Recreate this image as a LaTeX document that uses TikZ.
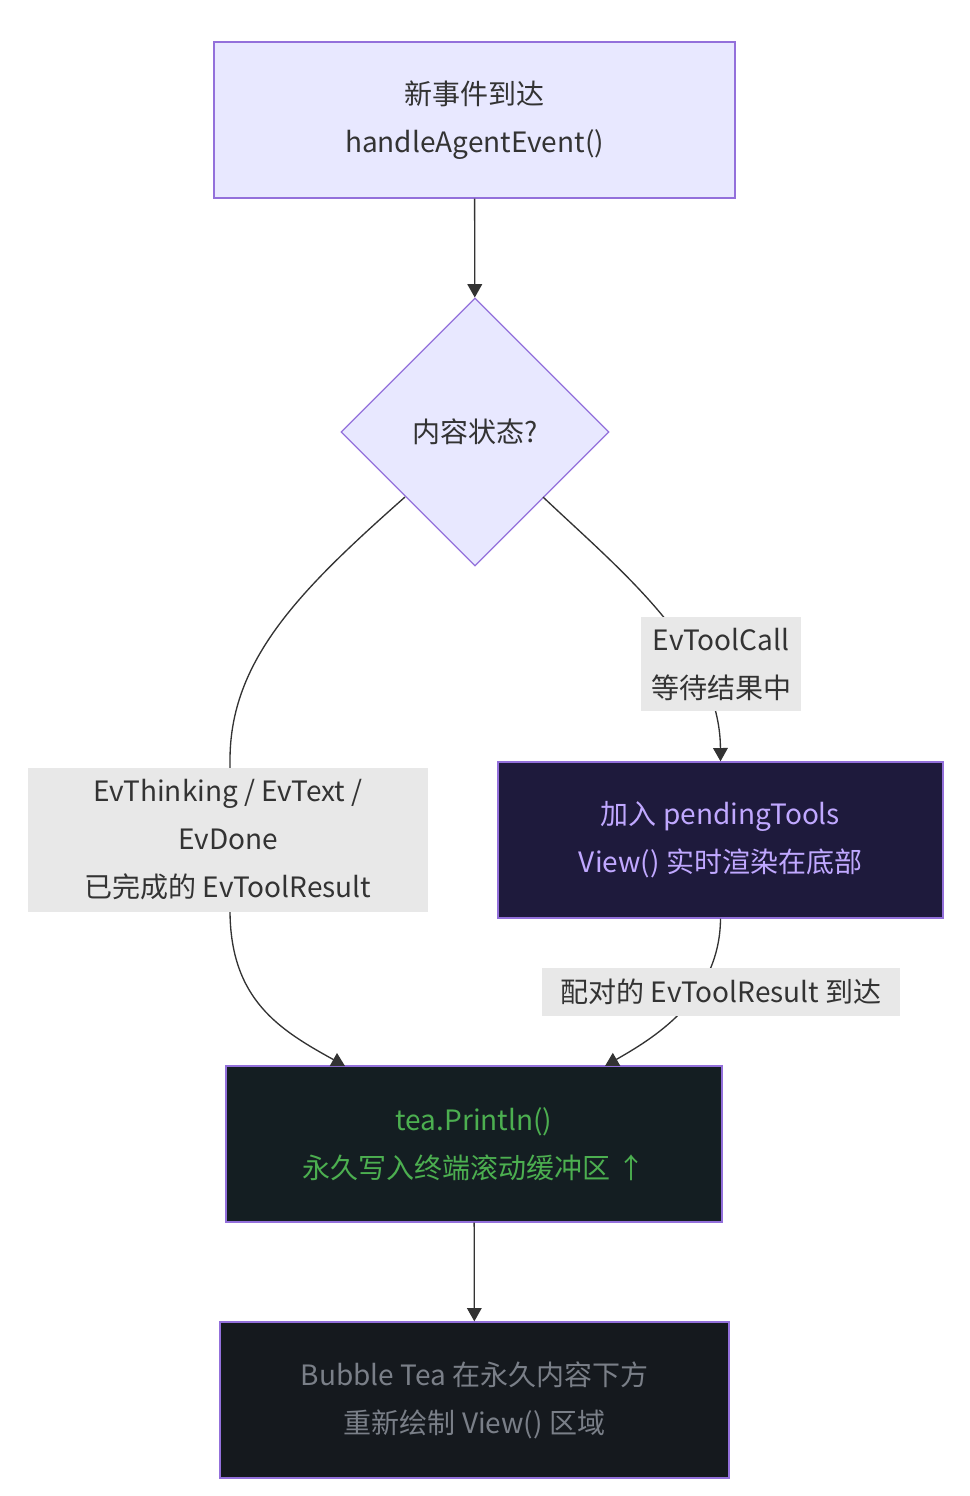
\documentclass[tikz,border=0pt]{standalone}
\usepackage{fontspec}
\setmainfont{Noto Sans CJK SC}
\usetikzlibrary{arrows.meta,shapes.geometric}
\definecolor{lav}{HTML}{E8E8FF}
\definecolor{lavb}{HTML}{9370DB}
\definecolor{edge}{HTML}{333333}
\definecolor{lbl}{HTML}{E8E8E8}
\begin{document}
\begin{tikzpicture}[x=0.75pt,y=-0.75pt,
  box/.style={draw=lavb,line width=1pt,minimum width=#1*0.75pt,minimum height=117pt,align=center,inner sep=0pt,font=\fontsize{21}{36}\selectfont},
  lab/.style={fill=lbl,align=center,inner sep=2pt,font=\fontsize{21}{36}\selectfont,text=edge},
  arr/.style={draw=edge,line width=1pt,-{Triangle[length=10pt,width=11pt]}}]
\useasboundingbox (0,0) rectangle (970,1496);
\node[box=521,fill=lav,text=edge] (a) at (474.5,120) {新事件到达\\handleAgentEvent()};
\node[draw=lavb,fill=lav,line width=1pt,diamond,minimum width=201pt,minimum height=201pt,inner sep=0pt,text=edge,font=\fontsize{21}{36}\selectfont] (d) at (475,432) {内容状态?};
\node[box=445,fill={rgb,255:red,30;green,26;blue,60},text={rgb,255:red,192;green,168;blue,255}] (p) at (720.5,840) {加入 pendingTools\\View() 实时渲染在底部};
\node[box=496,fill={rgb,255:red,20;green,30;blue,34},text={rgb,255:red,76;green,175;blue,80}] (t) at (474,1144) {tea.Println()\\永久写入终端滚动缓冲区 ↑};
\node[box=509,fill={rgb,255:red,21;green,25;blue,30},text={rgb,255:red,122;green,127;blue,136}] (b) at (474.5,1400) {Bubble Tea 在永久内容下方\\重新绘制 View() 区域};
\coordinate (dl) at (405,497);
\coordinate (dr) at (543,497);
\coordinate (tl) at (345,1066);
\coordinate (tr) at (605,1066);
\draw[arr] (a) -- (d);
\draw[arr] (t) -- (b);
\draw[arr] (dl) .. controls (300,590) and (230,660) .. (230,760) -- (230,910) .. controls (230,1000) and (280,1030) .. (tl);
\draw[arr] (dr) .. controls (620,570) and (720,650) .. (p.north);
\draw[arr] (p.south) .. controls (720,1000) and (650,1040) .. (tr);
\node[lab,minimum width=300pt,minimum height=108pt] (l1) at (228,840) {EvThinking / EvText /\\EvDone\\已完成的 EvToolResult};
\node[lab,minimum width=120pt,minimum height=71pt] (l2) at (721,664) {EvToolCall\\等待结果中};
\node[lab,minimum width=268pt,minimum height=36pt] (l3) at (721,992) {配对的 EvToolResult 到达};
\end{tikzpicture}
\end{document}
